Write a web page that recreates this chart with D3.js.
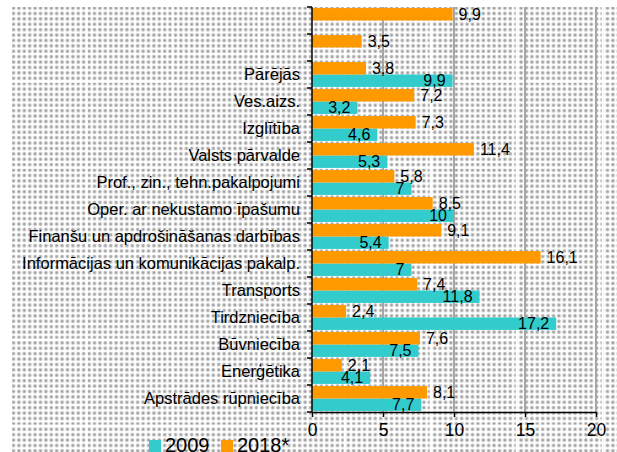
<!DOCTYPE html>
<html>
<head>
<meta charset="utf-8">
<script src="https://cdn.jsdelivr.net/npm/d3@7"></script>
<style>
  html, body { margin: 0; padding: 0; background: #fff; }
  svg { display: block; font-family: "Liberation Sans", Arial, sans-serif; }
</style>
</head>
<body>
<svg id="chart" width="617" height="452"></svg>
<script>
// kategorijas no augšas uz leju (divām augšējām nav nosaukuma)
const categories = [
  '', '', 'Pārējās', 'Ves.aizs.', 'Izglītība', 'Valsts pārvalde',
  'Prof., zin., tehn.pakalpojumi', 'Oper. ar nekustamo īpašumu',
  'Finanšu un apdrošināšanas darbības', 'Informācijas un komunikācijas pakalp.',
  'Transports', 'Tirdzniecība', 'Būvniecība', 'Enerģētika', 'Apstrādes rūpniecība'
];
const values2009 = [null, null, 9.9, 3.2, 4.6, 5.3, 7, 10, 5.4, 7, 11.8, 17.2, 7.5, 4.1, 7.7];
const values2018 = [9.9, 3.5, 3.8, 7.2, 7.3, 11.4, 5.8, 8.5, 9.1, 16.1, 7.4, 2.4, 7.6, 2.1, 8.1];
const seriesNames = ['2009', '2018*'];
const xTicks = [0, 5, 10, 15, 20];

const colors = { '2009': '#33CCCC', '2018*': '#FF9900' };
const fmt = v => String(v).replace('.', ',');

const svg = d3.select('#chart');
const defs = svg.append('defs');

// punktotais fons
const dots = defs.append('pattern').attr('id', 'dots')
  .attr('patternUnits', 'userSpaceOnUse').attr('width', 5.4).attr('height', 5.4);
dots.append('rect').attr('width', 5.4).attr('height', 5.4).attr('fill', '#fff');
dots.append('circle').attr('cx', 2.7).attr('cy', 2.7).attr('r', 2.1).attr('fill', '#d4d4d4');
dots.append('circle').attr('cx', 2.7).attr('cy', 2.7).attr('r', 1.3).attr('fill', '#a2a2a2');

const tile = defs.append('pattern').attr('id', 'tile')
  .attr('patternUnits', 'userSpaceOnUse').attr('x', -0.3).attr('y', -5.3)
  .attr('width', 86).attr('height', 86);
tile.append('rect').attr('width', 2).attr('height', 86).attr('fill', '#fff');
tile.append('rect').attr('width', 86).attr('height', 2).attr('fill', '#fff');

svg.append('rect').attr('x', 12).attr('y', 7).attr('width', 605).attr('height', 445).attr('fill', 'url(#dots)');
svg.append('rect').attr('x', 12).attr('y', 7).attr('width', 605).attr('height', 445).attr('fill', 'url(#tile)');

const x = d3.scaleLinear().domain([0, 20]).range([312, 596]);
const y = d3.scaleBand().domain(d3.range(categories.length))
  .range([7, 412]).paddingInner(0.08).paddingOuter(0.04);
const yi = d3.scaleBand().domain(['2018*', '2009']).range([0, y.bandwidth()]);

// režģa līnijas
svg.append('g').selectAll('line').data(xTicks.slice(1)).join('line')
  .attr('x1', d => x(d)).attr('x2', d => x(d))
  .attr('y1', 7).attr('y2', 412)
  .attr('stroke', '#a6a6a6').attr('stroke-width', 2);

// stabiņi
const rows = categories.map((c, i) => ({ i, '2009': values2009[i], '2018*': values2018[i] }));
const groups = svg.append('g').selectAll('g').data(rows).join('g')
  .attr('transform', d => `translate(0,${y(d.i)})`);

groups.selectAll('rect')
  .data(d => seriesNames.filter(s => d[s] != null).map(s => ({ s, v: d[s] })))
  .join('rect')
  .attr('x', x(0))
  .attr('y', d => yi(d.s))
  .attr('width', d => x(d.v) - x(0))
  .attr('height', yi.bandwidth())
  .attr('fill', d => colors[d.s]);

// datu etiķetes
groups.selectAll('text')
  .data(d => seriesNames.filter(s => d[s] != null).map(s => ({ s, v: d[s] })))
  .join('text')
  .attr('x', d => d.s === '2009' ? x(d.v) - 7 : x(d.v) + 6)
  .attr('y', d => yi(d.s) + yi.bandwidth() / 2)
  .attr('dy', '0.36em')
  .attr('text-anchor', d => d.s === '2009' ? 'end' : 'start')
  .attr('font-size', 16)
  .attr('fill', '#000')
  .text(d => fmt(d.v));

// y ass
const yAxis = svg.append('g').attr('transform', `translate(${x(0)},0)`)
  .call(d3.axisLeft(y).tickSize(0).tickPadding(12).tickFormat(i => categories[i]));
yAxis.select('.domain').remove();
yAxis.selectAll('text').attr('font-size', 16.5).attr('fill', '#000')
  .attr('font-family', '"Liberation Sans", Arial, sans-serif');

const bounds = d3.range(categories.length).map(i => y(i) - y.step() * y.paddingInner() / 2).concat([412]);
svg.append('g').selectAll('line').data(bounds).join('line')
  .attr('x1', x(0) - 5).attr('x2', x(0))
  .attr('y1', d => d).attr('y2', d => d)
  .attr('stroke', '#000').attr('stroke-width', 1.5);
svg.append('line').attr('x1', x(0)).attr('x2', x(0)).attr('y1', 7).attr('y2', 412)
  .attr('stroke', '#000').attr('stroke-width', 1.5);

// x ass
const xAxis = svg.append('g').attr('transform', 'translate(0,412)')
  .call(d3.axisBottom(x).tickValues(xTicks).tickSize(5).tickPadding(7).tickSizeOuter(0).tickFormat(fmt));
xAxis.select('.domain').attr('stroke', '#000').attr('stroke-width', 1.5);
xAxis.selectAll('line').attr('stroke', '#000').attr('stroke-width', 1.5);
xAxis.selectAll('text').attr('font-size', 17.5).attr('fill', '#000')
  .attr('font-family', '"Liberation Sans", Arial, sans-serif');

// leģenda
const legendX = [149, 221];
const legend = svg.append('g').selectAll('g').data(seriesNames).join('g')
  .attr('transform', (d, i) => `translate(${legendX[i]},440)`);
legend.append('rect').attr('width', 12).attr('height', 12).attr('fill', d => colors[d]);
legend.append('text').attr('x', 16).attr('y', 11.5).attr('font-size', 20).attr('fill', '#000').text(d => d);
</script>
</body>
</html>
